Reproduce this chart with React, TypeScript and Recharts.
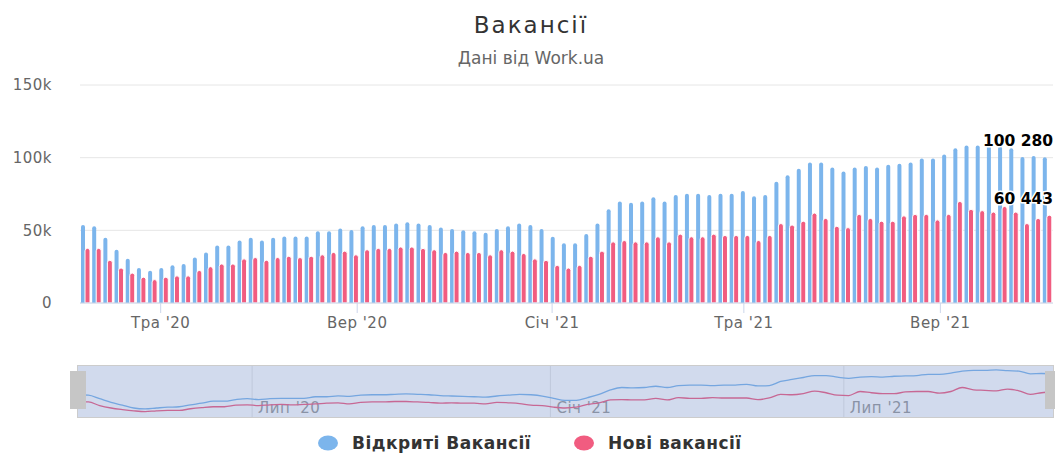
import { Bar, BarChart, CartesianGrid, LabelList, Line, LineChart, ReferenceLine, XAxis, YAxis } from "recharts";

const FONT = "'DejaVu Sans', sans-serif";
const DAY = 86400000;
const FIRST_WEEK = Date.UTC(2020, 2, 15);

// weekly values
const openVacancies = [
  53700, 52800, 44900, 36700, 30400, 24100, 22200, 24100, 25900, 26900,
  31300, 34800, 39500, 39500, 43000, 44900, 43000, 44900, 45800, 45800,
  45800, 49300, 49300, 51200, 50200, 52800, 53700, 53700, 54700, 55600,
  54700, 53700, 51900, 50900, 50000, 49300, 48400, 50900, 52800, 54700,
  53700, 50900, 45600, 41100, 41100, 47400, 54700, 64500, 69900, 68900,
  69900, 72700, 69900, 74300, 75200, 75200, 74300, 75200, 75200, 77100,
  73400, 74300, 83400, 87900, 92300, 96700, 96700, 93200, 90400, 93200,
  94200, 93200, 95100, 95800, 96700, 99500, 99500, 102100, 106500, 108400,
  108400, 109300, 107500, 106500, 100500, 101200, 100280,
];
const newVacancies = [
  37600, 37600, 29400, 24100, 20600, 17800, 16100, 17800, 18700, 18700,
  22400, 25000, 26900, 26900, 30400, 31300, 29400, 31300, 32200, 31300,
  32200, 33200, 34800, 35700, 33200, 36700, 37600, 37600, 38600, 38600,
  37600, 36700, 34800, 35700, 34800, 34800, 33200, 36700, 35700, 34100,
  30400, 29400, 25900, 24100, 25900, 32200, 35700, 42100, 43000, 42100,
  42100, 45600, 42100, 47400, 45600, 45600, 47400, 46500, 46500, 46500,
  43000, 46500, 54700, 53700, 56300, 61900, 58200, 52800, 51900, 61000,
  58200, 56300, 56300, 60000, 61000, 61000, 57200, 61000, 69900, 64500,
  63600, 62600, 66400, 62600, 54700, 58200, 60443,
];

const yTicks = [0, 50000, 100000, 150000];
const mainTicks = [Date.UTC(2020, 4, 1), Date.UTC(2020, 8, 1), Date.UTC(2021, 0, 1), Date.UTC(2021, 4, 1), Date.UTC(2021, 8, 1)];
const mainTickLabels = ["Тра '20", "Вер '20", "Січ '21", "Тра '21", "Вер '21"];
const navTicks = [Date.UTC(2020, 6, 1), Date.UTC(2021, 0, 1), Date.UTC(2021, 6, 1)];
const navTickLabels = ["Лип '20", "Січ '21", "Лип '21"];

const LAST = openVacancies.length - 1;
const LAST_WEEK = FIRST_WEEK + LAST * 7 * DAY;
const PLOT_RIGHT = 1053;

const rows = openVacancies.map((v, i) => ({
  t: FIRST_WEEK + i * 7 * DAY,
  open: v,
  fresh: newVacancies[i],
  openLabel: i === LAST ? v : null,
  freshLabel: i === LAST ? newVacancies[i] : null,
}));

const thousands = (v: number) => String(v).replace(/\B(?=(\d{3})+(?!\d))/g, " ");

function EndLabel(props: any) {
  const { x, y, width, value } = props;
  if (value == null) return null;
  const cx = Number(x) + Number(width) / 2;
  const right = Math.min(cx + 36, PLOT_RIGHT);
  return (
    <text
      x={right}
      y={Number(y) - 11}
      textAnchor="end"
      fontFamily={FONT}
      fontWeight="bold"
      fontSize={15.5}
      fill="#000"
      stroke="#fff"
      strokeWidth={3}
      strokeLinejoin="round"
      style={{ paintOrder: "stroke" }}
    >
      {thousands(Number(value))}
    </text>
  );
}

function NavLabel(text: string) {
  return (props: any) => {
    const vb = props.viewBox || {};
    return (
      <text x={vb.x + 6} y={47} fontFamily={FONT} fontSize={15} fill="#999" letterSpacing={0.5}>
        {text}
      </text>
    );
  };
}

const legendText = { position: "absolute" as const, top: 435, fontSize: 17, lineHeight: "17px", fontWeight: "bold" as const, color: "#333", whiteSpace: "nowrap" as const, letterSpacing: 0.5 };

export default function App() {
  return (
    <div style={{ position: "absolute", left: 0, top: 0, width: 1055, height: 455, overflow: "hidden", background: "#fff", fontFamily: FONT }}>
      <div style={{ position: "absolute", left: 0, top: 14, width: 1062, textAlign: "center", fontSize: 23, lineHeight: "23px", color: "#333", letterSpacing: 2 }}>
        Вакансії
      </div>
      <div style={{ position: "absolute", left: 0, top: 50, width: 1062, textAlign: "center", fontSize: 17, lineHeight: "17px", color: "#666" }}>
        Дані від Work.ua
      </div>

      <div style={{ position: "absolute", left: 0, top: 0 }}>
        <BarChart width={1055} height={340} data={rows} margin={{ top: 85, right: 2, left: 0, bottom: 0 }} barGap={0}>
          <CartesianGrid vertical={false} stroke="#e6e6e6" />
          <XAxis
            dataKey="t"
            type="number"
            domain={[FIRST_WEEK - 3.5 * DAY, LAST_WEEK + 3.5 * DAY]}
            ticks={mainTicks}
            interval={0}
            tickFormatter={(v: number) => mainTickLabels[mainTicks.indexOf(v)] ?? ""}
            height={37}
            stroke="#ccd6eb"
            tickSize={10}
            tickMargin={4}
            tick={{ fill: "#666", fontSize: 15, fontFamily: FONT, letterSpacing: 0.5 }}
          />
          <YAxis
            width={80}
            domain={[0, 150000]}
            ticks={yTicks}
            interval={0}
            axisLine={false}
            tickLine={false}
            tickSize={0}
            tickMargin={28}
            tickFormatter={(v: number) => (v === 0 ? "0" : `${v / 1000}k`)}
            tick={{ fill: "#666", fontSize: 15, fontFamily: FONT, letterSpacing: 0.5 }}
          />
          <Bar dataKey="open" fill="#7cb5ec" barSize={4} radius={[2, 2, 0, 0]} isAnimationActive={false}>
            <LabelList dataKey="openLabel" content={EndLabel} />
          </Bar>
          <Bar dataKey="fresh" fill="#f15c80" barSize={5} stroke="#fff" strokeWidth={1} radius={[2.5, 2.5, 0, 0]} isAnimationActive={false}>
            <LabelList dataKey="freshLabel" content={EndLabel} />
          </Bar>
        </BarChart>
      </div>

      <div style={{ position: "absolute", left: 0, top: 366 }}>
        <LineChart width={1055} height={51} data={rows} margin={{ top: 0, right: 2, left: 77, bottom: 0 }}>
          <XAxis dataKey="t" type="number" domain={[FIRST_WEEK, LAST_WEEK]} hide />
          <YAxis domain={[4000, 118000]} hide />
          {navTicks.map((t, i) => (
            <ReferenceLine key={t} x={t} stroke="#e6e6e6" label={NavLabel(navTickLabels[i])} />
          ))}
          <Line type="monotone" dataKey="open" stroke="#7cb5ec" strokeWidth={1.3} dot={false} isAnimationActive={false} />
          <Line type="monotone" dataKey="fresh" stroke="#f15c80" strokeWidth={1.3} dot={false} isAnimationActive={false} />
        </LineChart>
      </div>
      <div style={{ position: "absolute", left: 77, top: 365, width: 977, height: 53, boxSizing: "border-box", background: "rgba(102,133,194,0.3)", border: "1px solid #cccccc" }} />
      <div style={{ position: "absolute", left: 70, top: 371, width: 16, height: 38, background: "#c6c6c6" }} />
      <div style={{ position: "absolute", left: 1045, top: 371, width: 10, height: 38, background: "#c6c6c6" }} />

      <svg style={{ position: "absolute", left: 0, top: 430 }} width={1055} height={26}>
        <ellipse cx={328} cy={13} rx={10} ry={7.5} fill="#7cb5ec" />
        <ellipse cx={584} cy={13} rx={10} ry={7.5} fill="#f15c80" />
      </svg>
      <div style={{ ...legendText, left: 352 }}>Відкриті Вакансії</div>
      <div style={{ ...legendText, left: 608 }}>Нові вакансії</div>
    </div>
  );
}
